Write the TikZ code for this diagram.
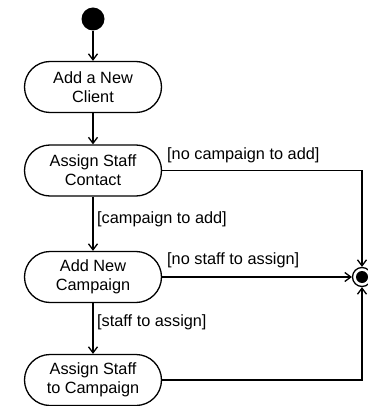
\documentclass[tikz,border=0pt]{standalone}
\usepackage{fontspec}
\setmainfont{Liberation Sans}
\usetikzlibrary{arrows.meta}
\begin{document}
\begin{tikzpicture}[x=1pt,y=-1pt,
  every node/.style={font=\fontsize{16.3pt}{19.3pt}\selectfont},
  activity/.style={draw,line width=1.3pt,rounded corners=25.5pt,minimum width=137pt,minimum height=51pt,align=center,inner sep=0pt},
  flow/.style={line width=1.3pt,-{Straight Barb[length=6pt,width=9pt,line width=1.3pt]}},
  guard/.style={anchor=west,inner sep=0pt}]
\useasboundingbox (0,0) rectangle (367,406);
\node[circle,fill=black,minimum size=23pt,inner sep=0pt] (start) at (93,19) {};
\node[activity] (n1) at (93,87) {Add a New\\Client};
\node[activity] (n2) at (93,170.5) {Assign Staff\\Contact};
\node[activity] (n3) at (93,277) {Add New\\Campaign};
\node[activity] (n4) at (93,380) {Assign Staff\\to Campaign};
\node[circle,draw,line width=1.3pt,minimum size=19pt,inner sep=0pt] (final) at (362,277) {};
\fill (final.center) circle (6pt);
\draw[flow] (start) -- (n1);
\draw[flow] (n1) -- (n2);
\draw[flow] (n2) -- (n3);
\draw[flow] (n3) -- (n4);
\draw[flow] (n2.east) -| (final.north);
\draw[flow] (n3.east) -- (final.west);
\draw[flow] (n4.east) -| (final.south);
\node[guard] (g1) at (167,155) {[no campaign to add]};
\node[guard] (g2) at (97,219) {[campaign to add]};
\node[guard] (g3) at (167,260) {[no staff to assign]};
\node[guard] (g4) at (97,322) {[staff to assign]};
\end{tikzpicture}
\end{document}
